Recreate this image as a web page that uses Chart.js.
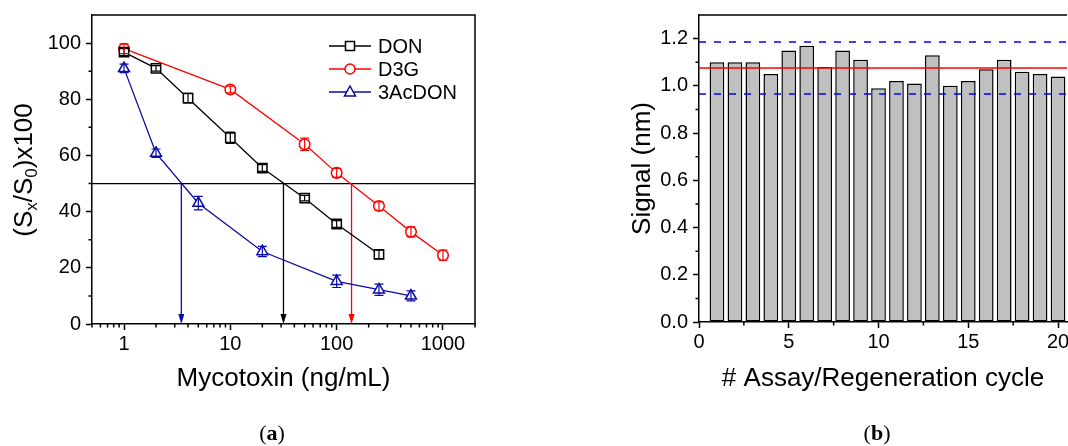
<!DOCTYPE html>
<html>
<head>
<meta charset="utf-8">
<script src="https://cdn.jsdelivr.net/npm/chart.js@4.4.1/dist/chart.umd.min.js"></script>
<style>
  html, body { margin: 0; padding: 0; background: #fff; overflow: hidden; }
  #wrap { position: relative; width: 1068px; height: 446px; }
  #boxA { position: absolute; left: 0; top: 0; width: 520px; height: 446px; }
  #boxB { position: absolute; left: 560px; top: 0; width: 508px; height: 446px; }
  .tag { position: absolute; top: 420px; line-height: 26px; font-family: 'Liberation Serif', 'DejaVu Serif', serif; font-size: 22px; transform: translateX(-50%); }
</style>
</head>
<body>
<div id="wrap">
  <div id="boxA"><canvas id="curve-chart"></canvas></div>
  <div id="boxB"><canvas id="regen-chart"></canvas></div>
  <div class="tag" style="left:272px">(<b>a</b>)</div>
  <div class="tag" style="left:877px">(<b>b</b>)</div>
</div>
<script>
// calibration curves: (Sx/S0)x100 vs mycotoxin concentration (ng/mL)
var donConc = [1, 2, 4, 10, 20, 50, 100, 250];
var donSignal = [96.8, 91, 80.4, 66.3, 55.5, 44.8, 35.6, 24.8];
var donErr = [1.2, 1.0, 1.7, 2.0, 1.2, 1.0, 1.2, 1.5];

var d3gConc = [1, 10, 50, 100, 250, 500, 1000];
var d3gSignal = [98, 83.5, 64, 53.8, 42, 32.8, 24.5];
var d3gErr = [1.7, 1.2, 2.2, 1.6, 1.5, 1.8, 1.8];

var acdonConc = [1, 2, 5, 20, 100, 250, 500];
var acdonSignal = [91, 60.8, 43, 25.8, 15.2, 12.2, 10];
var acdonErr = [1.5, 1.5, 2.4, 1.8, 2.2, 2.0, 1.8];

// IC50 of each toxin (where the curve crosses 50)
var ic50Level = 50;
var ic50 = [3.46, 31.6, 138];
var ic50Colors = ['#0a0aa8', '#000000', '#ff0000'];

var xTicksA = [1, 10, 100, 1000];
var yTicksA = [0, 20, 40, 60, 80, 100];

// regeneration: signal per assay cycle
var cycles = [1, 2, 3, 4, 5, 6, 7, 8, 9, 10, 11, 12, 13, 14, 15, 16, 17, 18, 19, 20];
var cycleSignal = [1.10, 1.10, 1.10, 1.05, 1.15, 1.17, 1.08, 1.15, 1.11, 0.99,
                   1.02, 1.01, 1.13, 1.00, 1.02, 1.07, 1.11, 1.06, 1.05, 1.04];
var meanSignal = 1.076;
var limitHigh = 1.186;
var limitLow = 0.966;

var xTicksB = [0, 5, 10, 15, 20];
var yTicksB = [0, 0.2, 0.4, 0.6, 0.8, 1.0, 1.2];

Chart.defaults.font.family = "'Liberation Sans', Arial, sans-serif";
Chart.defaults.color = '#000';

function points(xs, ys) {
  return xs.map(function(x, i) { return { x: x, y: ys[i] }; });
}

function setTicks(list) {
  return function(scale) {
    scale.ticks = list.map(function(v) { return { value: v }; });
  };
}

// minor tick marks + top/right frame lines
var axisExtras = {
  id: 'axisExtras',
  afterDraw: function(chart, args, opts) {
    var ctx = chart.ctx, a = chart.chartArea;
    var xs = chart.scales.x, ys = chart.scales.y;
    ctx.save();
    ctx.strokeStyle = '#000';
    ctx.lineWidth = 1.5;
    ctx.beginPath();
    (opts.x || []).forEach(function(v) {
      var px = xs.getPixelForValue(v);
      ctx.moveTo(px, a.bottom);
      ctx.lineTo(px, a.bottom + 3.5);
    });
    (opts.y || []).forEach(function(v) {
      var py = ys.getPixelForValue(v);
      ctx.moveTo(a.left, py);
      ctx.lineTo(a.left - 3.5, py);
    });
    ctx.stroke();
    ctx.beginPath();
    ctx.moveTo(a.left, a.top);
    ctx.lineTo(a.right, a.top);
    if (opts.right) ctx.lineTo(a.right, a.bottom);
    ctx.stroke();
    ctx.restore();
  }
};

var errorBars = {
  id: 'errorBars',
  afterDatasetsDraw: function(chart) {
    var ctx = chart.ctx, ys = chart.scales.y;
    chart.data.datasets.forEach(function(ds, i) {
      if (!ds.errors) return;
      var meta = chart.getDatasetMeta(i);
      ctx.save();
      ctx.strokeStyle = ds.borderColor;
      ctx.lineWidth = 1.2;
      meta.data.forEach(function(pt, j) {
        var v = ds.data[j].y, e = ds.errors[j];
        var top = ys.getPixelForValue(v + e), bot = ys.getPixelForValue(v - e);
        ctx.beginPath();
        ctx.moveTo(pt.x, top); ctx.lineTo(pt.x, bot);
        ctx.moveTo(pt.x - 4.5, top); ctx.lineTo(pt.x + 4.5, top);
        ctx.moveTo(pt.x - 4.5, bot); ctx.lineTo(pt.x + 4.5, bot);
        ctx.stroke();
      });
      ctx.restore();
    });
  }
};

// 50% line and the arrows dropping to each IC50
var cutoff = {
  id: 'cutoff',
  beforeDatasetsDraw: function(chart) {
    var ctx = chart.ctx, a = chart.chartArea, xs = chart.scales.x, ys = chart.scales.y;
    var yl = ys.getPixelForValue(ic50Level), y0 = ys.getPixelForValue(0);
    ctx.save();
    ctx.lineWidth = 1.3;
    ctx.strokeStyle = '#000';
    ctx.beginPath(); ctx.moveTo(a.left, yl); ctx.lineTo(a.right, yl); ctx.stroke();
    ic50.forEach(function(v, i) {
      var px = xs.getPixelForValue(v);
      ctx.strokeStyle = ctx.fillStyle = ic50Colors[i];
      ctx.beginPath(); ctx.moveTo(px, yl); ctx.lineTo(px, y0 - 8); ctx.stroke();
      ctx.beginPath();
      ctx.moveTo(px, y0);
      ctx.lineTo(px - 3, y0 - 10);
      ctx.lineTo(px + 3, y0 - 10);
      ctx.closePath();
      ctx.fill();
    });
    ctx.restore();
  }
};

// legend drawn as line + hollow marker, like the plotted series
var lineLegend = {
  id: 'lineLegend',
  afterDraw: function(chart) {
    var ctx = chart.ctx;
    var x0 = 329, x1 = 371, xm = 350, ys = [46, 69, 92];
    ctx.save();
    chart.data.datasets.forEach(function(ds, i) {
      var y = ys[i];
      ctx.strokeStyle = ds.borderColor;
      ctx.lineWidth = 1.3;
      ctx.beginPath(); ctx.moveTo(x0, y); ctx.lineTo(x1, y); ctx.stroke();
      ctx.fillStyle = '#fff';
      ctx.lineWidth = 1.5;
      ctx.beginPath();
      if (ds.pointStyle === 'rect') ctx.rect(xm - 4.5, y - 4.5, 9, 9);
      else if (ds.pointStyle === 'circle') ctx.arc(xm, y, 5, 0, Math.PI * 2);
      else { ctx.moveTo(xm, y - 6); ctx.lineTo(xm + 5.5, y + 4); ctx.lineTo(xm - 5.5, y + 4); ctx.closePath(); }
      ctx.fill(); ctx.stroke();
      ctx.fillStyle = '#000';
      ctx.font = "20px 'Liberation Sans', Arial, sans-serif";
      ctx.textBaseline = 'middle';
      ctx.fillText(ds.label, 378, y + 1);
    });
    ctx.restore();
  }
};

// rotated y title with subscripts
var yTitleA = {
  id: 'yTitleA',
  afterDraw: function(chart) {
    var ctx = chart.ctx;
    var big = "26px 'Liberation Sans', Arial, sans-serif";
    var small = "17px 'Liberation Sans', Arial, sans-serif";
    var parts = [['(S', big, 0], ['x', small, 5], ['/S', big, 0], ['0', small, 5], [')x100', big, 0]];
    ctx.save();
    ctx.translate(25, 170);
    ctx.rotate(-Math.PI / 2);
    ctx.fillStyle = '#000';
    ctx.textBaseline = 'alphabetic';
    var total = 0;
    parts.forEach(function(p) { ctx.font = p[1]; total += ctx.measureText(p[0]).width; });
    var x = -total / 2;
    parts.forEach(function(p) {
      ctx.font = p[1];
      ctx.fillText(p[0], x, 7 + p[2]);
      x += ctx.measureText(p[0]).width;
    });
    ctx.restore();
  }
};

var minorX = [];
[0.1, 1, 10, 100, 1000].forEach(function(d) {
  for (var k = 2; k <= 9; k++) {
    var v = k * d;
    if (v >= 0.5 && v <= 2000 && xTicksA.indexOf(v) < 0) minorX.push(v);
  }
});

var axisStyle = {
  grid: { drawOnChartArea: false, drawTicks: true, tickLength: 6, tickWidth: 1.5, tickColor: '#000', color: '#000' },
  border: { display: true, color: '#000', width: 1.5 }
};

new Chart(document.getElementById('curve-chart'), {
  type: 'line',
  data: {
    datasets: [
      { label: 'DON', data: points(donConc, donSignal), errors: donErr, borderColor: '#000000',
        pointStyle: 'rect', pointRadius: 6.6 },
      { label: 'D3G', data: points(d3gConc, d3gSignal), errors: d3gErr, borderColor: '#ff0000',
        pointStyle: 'circle', pointRadius: 5.3 },
      { label: '3AcDON', data: points(acdonConc, acdonSignal), errors: acdonErr, borderColor: '#0a0aa8',
        pointStyle: 'triangle', pointRadius: 6.3 }
    ].map(function(ds) {
      ds.borderWidth = 1.3;
      ds.pointBackgroundColor = '#fff';
      ds.pointBorderColor = ds.borderColor;
      ds.pointBorderWidth = 1.5;
      ds.tension = 0;
      return ds;
    })
  },
  options: {
    responsive: true,
    maintainAspectRatio: false,
    animation: false,
    layout: { padding: { top: 15, right: 45, left: 0, bottom: 0 } },
    plugins: {
      legend: { display: false },
      tooltip: { enabled: false },
      axisExtras: { x: minorX, y: [10, 30, 50, 70, 90], right: true }
    },
    scales: {
      x: Object.assign({
        type: 'logarithmic', min: 0.5, max: 2000,
        afterBuildTicks: setTicks(xTicksA),
        afterFit: function(s) { s.height = 122; s.paddingLeft = 0; s.paddingRight = 0; },
        ticks: { autoSkip: false, maxRotation: 0, padding: 2, font: { size: 20 },
                 callback: function(v) { return String(v); } },
        title: { display: true, text: 'Mycotoxin (ng/mL)', font: { size: 26 }, padding: { top: 0, bottom: 52 } }
      }, axisStyle),
      y: Object.assign({
        type: 'linear', min: 0, max: 110,
        afterBuildTicks: setTicks(yTicksA),
        afterFit: function(s) { s.width = 92; s.paddingTop = 0; s.paddingBottom = 0; },
        ticks: { padding: 5, font: { size: 20 } }
      }, axisStyle)
    }
  },
  plugins: [cutoff, errorBars, axisExtras, lineLegend, yTitleA]
});

new Chart(document.getElementById('regen-chart'), {
  type: 'bar',
  data: {
    datasets: [
      { type: 'line', data: [{ x: 0, y: meanSignal }, { x: 20.5, y: meanSignal }], borderColor: '#ff0000',
        borderWidth: 1.5, pointRadius: 0, order: 0 },
      { type: 'line', data: [{ x: 0, y: limitHigh }, { x: 20.5, y: limitHigh }], borderColor: '#0000ff',
        borderWidth: 1.5, borderDash: [7, 8], pointRadius: 0, order: 0 },
      { type: 'line', data: [{ x: 0, y: limitLow }, { x: 20.5, y: limitLow }], borderColor: '#0000ff',
        borderWidth: 1.5, borderDash: [7, 8], pointRadius: 0, order: 0 },
      { type: 'bar', data: points(cycles, cycleSignal), backgroundColor: '#c0c0c0', borderColor: '#000',
        borderWidth: 1.5, borderSkipped: false, categoryPercentage: 0.82, barPercentage: 1, order: 1 }
    ]
  },
  options: {
    responsive: true,
    maintainAspectRatio: false,
    animation: false,
    layout: { padding: { top: 15, right: 1, left: 0, bottom: 0 } },
    plugins: {
      legend: { display: false },
      tooltip: { enabled: false },
      axisExtras: { x: [2.5, 7.5, 12.5, 17.5], y: [0.1, 0.3, 0.5, 0.7, 0.9, 1.1], right: false }
    },
    scales: {
      x: Object.assign({
        type: 'linear', min: 0, max: 20.5, offset: false,
        afterBuildTicks: setTicks(xTicksB),
        afterFit: function(s) { s.height = 124; s.paddingLeft = 0; s.paddingRight = 0; },
        ticks: { autoSkip: false, maxRotation: 0, padding: 2, font: { size: 20 } },
        title: { display: true, text: '# Assay/Regeneration cycle', font: { size: 26 }, padding: { top: 0, bottom: 52 } }
      }, axisStyle, { grid: Object.assign({ offset: false }, axisStyle.grid) }),
      y: Object.assign({
        type: 'linear', min: 0, max: 1.3,
        afterBuildTicks: setTicks(yTicksB),
        afterFit: function(s) { s.width = 139; s.paddingTop = 0; s.paddingBottom = 0; },
        ticks: { padding: 5, font: { size: 20 }, callback: function(v) { return v.toFixed(1); } },
        title: { display: true, text: 'Signal (nm)', font: { size: 26 }, padding: { top: 67, bottom: 0 } }
      }, axisStyle)
    }
  },
  plugins: [axisExtras]
});
</script>
</body>
</html>
